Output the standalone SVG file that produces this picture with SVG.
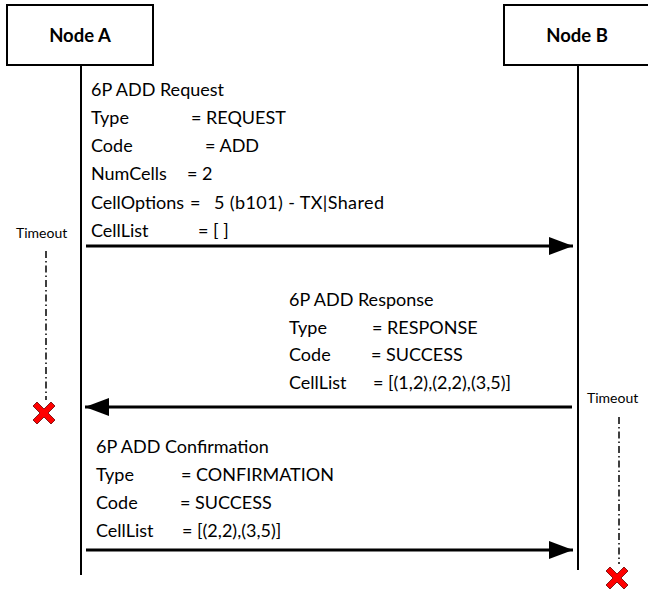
<svg xmlns="http://www.w3.org/2000/svg" width="648" height="590" viewBox="0 0 648 590">
<style>
.box{fill:#fff;stroke:#000;stroke-width:2}
.life{stroke:#000;stroke-width:2;fill:none}
.msg{stroke:#000;stroke-width:3;fill:none}
.title{font-family:Lato,"Liberation Sans",Arial,sans-serif;font-weight:bold;font-size:18.5px;text-anchor:middle}
.t{font-family:Lato,"Liberation Sans",Arial,sans-serif;font-size:18px;fill:#000}
.to{font-family:Lato,"Liberation Sans",Arial,sans-serif;font-size:14px;fill:#000}
.dd{stroke:#000;stroke-width:1.5;stroke-dasharray:7 3 1.5 3;fill:none}
.x{fill:#ff0000;stroke:#600;stroke-width:0.8}
</style>
<defs>
<marker id="ah" markerWidth="8" markerHeight="6" refX="8" refY="3" orient="auto" markerUnits="strokeWidth">
<path d="M0,0 L8,3 L0,6 Z" fill="#000"/>
</marker>
<path id="cross" d="M-11,-7 L-7,-11 L0,-4 L7,-11 L11,-7 L4,0 L11,7 L7,11 L0,4 L-7,11 L-11,7 L-4,0 Z"/>
</defs>
<g id="nodeA">
<rect class="box" x="7" y="5" width="146" height="60"/>
<text class="title" x="80" y="42">Node A</text>
<line class="life" x1="81" y1="65" x2="81" y2="575"/>
</g>
<g id="nodeB">
<rect class="box" x="504" y="5" width="148" height="60"/>
<text class="title" x="577" y="42">Node B</text>
<line class="life" x1="578" y1="65" x2="578" y2="570"/>
</g>
<g id="connectors">
<line class="msg" x1="86" y1="246" x2="573" y2="246" marker-end="url(#ah)"/>
<line class="msg" x1="572" y1="407" x2="85" y2="407" marker-end="url(#ah)"/>
<line class="msg" x1="86" y1="550" x2="573" y2="550" marker-end="url(#ah)"/>
</g>
<g id="request">
<text class="t" x="91" y="96">6P ADD Request</text>
<text class="t" x="91" y="124">Type</text><text class="t" x="191" y="124">= REQUEST</text>
<text class="t" x="91" y="152">Code</text><text class="t" x="205" y="152">= ADD</text>
<text class="t" x="91" y="180">NumCells</text><text class="t" x="187" y="180">= 2</text>
<text class="t" x="91" y="209">CellOptions</text><text class="t" x="190" y="209">= <tspan x="214" textLength="170">5 (b101) - TX|Shared</tspan></text>
<text class="t" x="91" y="237">CellList</text><text class="t" x="198" y="237">= [ ]</text>
</g>
<g id="response">
<text class="t" x="289" y="306">6P ADD Response</text>
<text class="t" x="289" y="334">Type</text><text class="t" x="372" y="334">= RESPONSE</text>
<text class="t" x="289" y="361">Code</text><text class="t" x="371" y="361">= SUCCESS</text>
<text class="t" x="289" y="389">CellList</text><text class="t" x="373" y="389">= [(1,2),(2,2),(3,5)]</text>
</g>
<g id="confirmation">
<text class="t" x="96" y="453">6P ADD Confirmation</text>
<text class="t" x="96" y="481">Type</text><text class="t" x="181" y="481">= CONFIRMATION</text>
<text class="t" x="96" y="509">Code</text><text class="t" x="180" y="509">= SUCCESS</text>
<text class="t" x="96" y="537">CellList</text><text class="t" x="182" y="537">= [(2,2),(3,5)]</text>
</g>
<g id="timeoutA">
<text class="to" x="16" y="238">Timeout</text>
<line class="dd" x1="46" y1="251" x2="46" y2="400"/>
<use href="#cross" class="x" x="44" y="413"/>
</g>
<g id="timeoutB">
<text class="to" x="587" y="403">Timeout</text>
<line class="dd" x1="619" y1="417" x2="619" y2="564"/>
<use href="#cross" class="x" x="617" y="578"/>
</g>
</svg>
